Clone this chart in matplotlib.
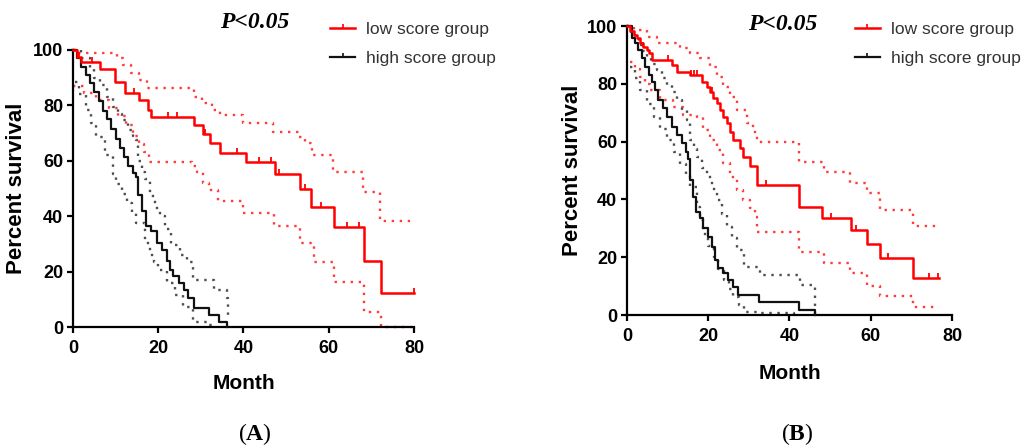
import matplotlib
matplotlib.use("Agg")
import matplotlib.pyplot as plt
import numpy as np
from matplotlib.lines import Line2D
from matplotlib.path import Path

plt.rcParams['font.family'] = ['Liberation Sans', 'DejaVu Sans']
plt.rcParams['mathtext.fontset'] = 'custom'
plt.rcParams['mathtext.rm'] = 'Liberation Serif'
plt.rcParams['mathtext.bf'] = 'Liberation Serif:bold'

# ---- panel A : low score group (red) ----
a_low_t = [0, 1, 2, 6.4, 9.9, 12.1, 15.4, 17.5, 18.3, 28.3, 30.5, 32.1, 34.4, 40.5, 47.5, 53.2, 55.9, 61.3, 68.2, 72.3, 80]
a_low_s = [100, 97.6, 95.8, 93, 88.6, 84.3, 82, 78.3, 75.7, 72.9, 69.7, 66.5, 62.9, 59.7, 55.2, 49.7, 43.2, 36, 23.9, 12.1, 12.1]
a_low_cens = [1.5, 4.4, 14.2, 22.4, 24.4, 31, 38.5, 43.6, 46.5, 48.3, 54.4, 58.3, 64.2, 67.2, 80]
a_low_up_t = [0, 1.5, 10.3, 11.8, 13.6, 15.5, 17.3, 28.3, 30.2, 32.5, 34.5, 40, 47, 53, 54.5, 56, 61, 68, 72, 80]
a_low_up_s = [100, 98.8, 97, 94.6, 91.6, 89.2, 86.2, 83.1, 80.8, 78.3, 76.5, 73.5, 70.5, 68.7, 66.3, 62, 56, 48.8, 38.3, 38.3]
a_low_lo_t = [0, 2.5, 5.5, 8.5, 10.5, 12.5, 14, 15.5, 16.7, 17.8, 28, 29, 30.5, 32, 34, 40, 47.1, 53.2, 56.5, 61.2, 68.2, 72.2, 80]
a_low_lo_s = [87, 84.5, 82, 79, 76, 73, 69, 66, 63, 59.7, 58, 56, 52, 49.5, 45.5, 41.2, 36.4, 30.3, 23.6, 16.4, 5.5, 0, 0]

# ---- panel A : high score group (black) ----
a_high_t = [0, 1, 2, 3, 4, 5, 6, 7, 8, 9, 10, 11, 12, 13, 14, 14.9, 15.3, 16.1, 17.1, 18.4, 19.6, 20.8, 22, 22.7,
            23.4, 24.8, 26.1, 27.1, 28.3, 32, 34.2, 36.2]
a_high_s = [100, 97, 94, 91, 88, 85, 81.5, 78, 75, 71.5, 68, 64.5, 61.5, 58, 55.5, 54, 47.5, 41.9, 36.6, 34.7, 30.4,
            27.9, 23.7, 20.5, 18.3, 15.9, 13.3, 10.4, 6.9, 4.2, 1.8, 0]
a_high_up_t = [0, 2, 3.9, 5, 6.3, 7.9, 9.4, 10.5, 11.4, 12.9, 14, 14.9, 15.3, 16.1, 16.9, 18, 19.2, 20.4, 21.6, 23.1,
               25.1, 26.7, 28.2, 31.4, 33, 36.1, 36.4]
a_high_up_s = [100, 97, 93, 90, 87.4, 83.1, 79.5, 77, 74.7, 71.1, 69, 67.5, 60, 56, 53.3, 47.3, 43, 40, 35.2, 29.7,
               26.1, 23.6, 17, 17, 13.3, 10.3, 3]
a_high_lo_t = [0.4, 1.5, 3.1, 4.3, 5.5, 7.5, 9.4, 10.2, 11.4, 12.6, 13.8, 14.9, 16.9, 18, 19, 20, 22, 23.9, 25.9, 28.2,
               31.4, 33]
a_high_lo_s = [88.4, 84, 78.3, 73.5, 68.7, 62, 55.4, 51.5, 48, 44.9, 41, 37.6, 30.3, 26.1, 23.5, 20.6, 15.8, 11.5, 7.3,
               1.8, 0.6, 0]

# ---- panel B : low score group (red) ----
b_low_t = [0, 0.8, 1.6, 2.4, 3.2, 4, 4.8, 5.5, 6.1, 11, 12.2, 15.5, 18.4, 19.6, 20.4, 21.2, 22.1, 22.9, 23.7, 24.5,
           25.4, 26.2, 27.8, 28.6, 30.3, 32.1, 42.3, 48, 55.2, 59.2, 62.3, 70.3, 76.9]
b_low_s = [100, 98.2, 96.9, 95.7, 94, 92.8, 91.7, 90.5, 88.2, 86.5, 84.2, 83, 80.7, 79, 77.3, 75, 73.3, 70.9, 68.6,
           66.3, 63.4, 60.6, 57.7, 54.8, 51.6, 45, 37.5, 33.4, 29.4, 24.5, 19.6, 12.9, 12.9]
b_low_cens = [4, 10, 15.8, 16.5, 17.2, 20.8, 34.3, 50.1, 56.3, 64.3, 74.4, 76.5]
b_low_up_t = [0, 1.6, 4.8, 7.3, 13, 15.5, 18, 20.4, 22.1, 23.7, 25.4, 27, 29.5, 31, 32.1, 42.3, 48.5, 55, 59.2, 62.3,
              70.3, 76.9]
b_low_up_s = [100, 98.6, 96.3, 94, 92.3, 90.6, 88.8, 85.9, 82.5, 79, 75.5, 70.9, 66.3, 63.4, 60, 53, 49.6, 45.6, 42.1,
              36.3, 30.8, 30.8]
b_low_lo_t = [0.8, 2, 3.2, 4.5, 5.7, 8.1, 11.4, 13.9, 17.2, 18.8, 20.4, 22.1, 23.7, 25.4, 27, 28.6, 30.3, 31.5, 32.1,
              42.3, 48.5, 55, 59.2, 62.3, 70.3, 76.9]
b_low_lo_s = [87.6, 85, 82.5, 80, 77.9, 74.4, 72.1, 69.2, 68.6, 64, 60.6, 57.1, 52.5, 47.9, 43.3, 39.8, 36.9, 34,
              28.8, 21.7, 17.9, 14.6, 10, 6.7, 2.7, 2.7]

# ---- panel B : high score group (black) ----
b_high_t = [0, 1.2, 2, 2.8, 3.6, 4.4, 5.3, 6.1, 6.9, 7.7, 8.9, 9.8, 11, 12.2, 13.5, 14.5, 15, 15.4, 16.2, 17, 18,
            18.8, 20, 20.8, 21.7, 22.5, 23.7, 24.9, 26.2, 27.4, 32.4, 42.3, 46.4]
b_high_s = [100, 95.7, 94, 91.7, 88.8, 85.9, 83, 80.7, 77.9, 74.4, 71.5, 68.6, 65.2, 62.3, 59.4, 56.5, 54.1, 46.7,
            41, 35.7, 33.5, 30, 27.1, 23.6, 19, 16.2, 14.4, 12.1, 9.8, 6.9, 4.6, 1.7, 0]
b_high_up_t = [0, 1, 2, 3, 4, 4.9, 6, 7.4, 8.6, 9.8, 11, 12.3, 13.5, 14.7, 15.6, 16.4, 17.2, 18.5, 19.7, 20.9, 22.1,
               23.3, 24.6, 25.8, 27, 28.7, 32.8, 42.6, 46.4]
b_high_up_s = [100, 98, 95.5, 93.5, 91.5, 89.3, 87, 84.7, 82, 79.5, 77, 74.3, 71, 67.4, 60.5, 57.5, 54.7, 51, 47.8,
               43.5, 39.7, 35, 30.5, 26.5, 22.5, 16.7, 13.8, 10.4, 0]
b_high_lo_t = [0.8, 2, 3.3, 5, 6.6, 8.2, 9.8, 11.5, 13.1, 14.4, 15.6, 17.2, 18, 18.8, 20, 21.3, 22.5, 23.8, 25, 26.2,
               27.5, 28.7, 32.8, 41]
b_high_lo_s = [85.8, 82, 77.8, 73, 68.5, 64.5, 60.5, 56.5, 52.4, 48.5, 44.4, 37.4, 33, 28.2, 24, 20.2, 16, 12.1, 9,
               6.3, 3.5, 1.2, 0.6, 0]

labels = ['low score group', 'high score group']
x_ticks = [0, 20, 40, 60, 80]
y_ticks = [0, 20, 40, 60, 80, 100]

RED = '#ff0000'
RED_CI = '#ff3b3b'
BLACK = '#111111'
GREY_CI = '#4d4d4d'
tick_mark = Path([(0, 0), (0, 1)])
dots = (0, (1, 2.4))


def value_at(t, s, c):
    i = np.searchsorted(t, c, side='right') - 1
    return np.asarray(s)[np.clip(i, 0, len(s) - 1)]


def panel(ax, low, high, cens, pos_leg):
    lt, ls, ut, us, bt, bs = low
    ax.step(ut, us, where='post', color=RED_CI, lw=1.7, ls=dots, clip_on=False, zorder=2)
    ax.step(bt, bs, where='post', color=RED_CI, lw=1.7, ls=dots, clip_on=False, zorder=2)
    ht, hs, hut, hus, hbt, hbs = high
    ax.step(hut, hus, where='post', color=GREY_CI, lw=1.7, ls=dots, clip_on=False, zorder=2)
    ax.step(hbt, hbs, where='post', color=GREY_CI, lw=1.7, ls=dots, clip_on=False, zorder=2)
    ax.step(ht, hs, where='post', color=BLACK, lw=1.6, clip_on=False, zorder=3)
    ax.step(lt, ls, where='post', color=RED, lw=1.8, clip_on=False, zorder=4)
    ax.plot(cens, value_at(lt, ls, cens), ls='none', marker=tick_mark, ms=7,
            mec=RED, mew=1.3, clip_on=False, zorder=4)

    ax.set_xlim(0, 80)
    ax.set_ylim(0, 100)
    ax.set_xticks(x_ticks)
    ax.set_yticks(y_ticks)
    for sp in ['top', 'right']:
        ax.spines[sp].set_visible(False)
    for sp in ['left', 'bottom']:
        ax.spines[sp].set_linewidth(1.6)
    ax.tick_params(direction='out', length=4, width=1.6, labelsize=13)
    ax.tick_params(axis='x', pad=5)
    ax.tick_params(axis='y', pad=3)
    for lab in ax.get_xticklabels() + ax.get_yticklabels():
        lab.set_fontweight('bold')
    ax.set_xlabel('Month', fontsize=15, fontweight='bold', va='top')
    ax.set_ylabel('Percent survival', fontsize=16, fontweight='bold')
    ax.xaxis.set_label_coords(0.5, -0.168)
    ax.yaxis.set_label_coords(-0.135, 0.5)

    handles = [Line2D([], [], color=RED, lw=1.8, marker=tick_mark, ms=6, mec=RED, mew=1.2),
               Line2D([], [], color=BLACK, lw=1.6, marker=tick_mark, ms=6, mec=BLACK, mew=1.2)]
    fig.legend(handles, labels, loc='upper left', bbox_to_anchor=pos_leg, frameon=False,
               borderpad=0, borderaxespad=0, handlelength=1.45, handletextpad=0.6,
               labelspacing=0.8, fontsize=12.5, labelcolor='#333333', numpoints=1)


fig = plt.figure(figsize=(10.35, 4.46), dpi=100)
axA = fig.add_axes([0.0705, 0.2668, 0.3295, 0.6211])
axB = fig.add_axes([0.6058, 0.2937, 0.3140, 0.6480])

panel(axA,
      (a_low_t, a_low_s, a_low_up_t, a_low_up_s, a_low_lo_t, a_low_lo_s),
      (a_high_t, a_high_s, a_high_up_t, a_high_up_s, a_high_lo_t, a_high_lo_s),
      a_low_cens, (0.3188, 0.950))
panel(axB,
      (b_low_t, b_low_s, b_low_up_t, b_low_up_s, b_low_lo_t, b_low_lo_s),
      (b_high_t, b_high_s, b_high_up_t, b_high_up_s, b_high_lo_t, b_high_lo_s),
      b_low_cens, (0.826, 0.950))

for x, y in [(0.2464, 0.949), (0.7565, 0.944)]:
    fig.text(x, y, 'P<0.05', family='Liberation Serif', style='italic', weight='bold',
             fontsize=17, ha='center', va='center')

fig.text(0.2464, 0.027, r'($\mathbf{A}$)', family='Liberation Serif', fontsize=17, ha='center', va='center')
fig.text(0.770, 0.027, r'($\mathbf{B}$)', family='Liberation Serif', fontsize=17, ha='center', va='center')

fig.savefig('out.png', dpi=100)
